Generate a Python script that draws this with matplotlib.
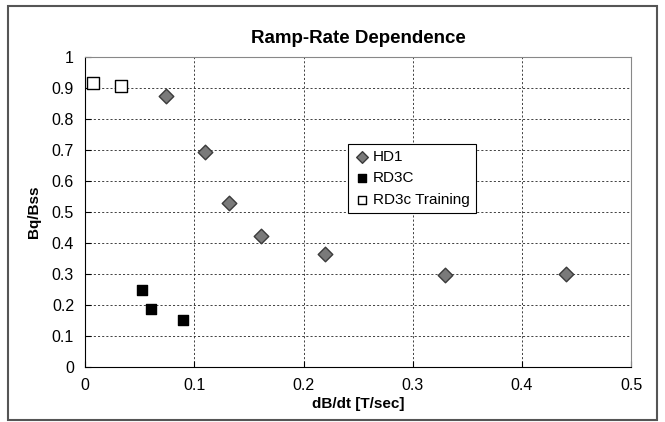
import matplotlib
matplotlib.use("Agg")
import matplotlib.pyplot as plt
from matplotlib.patches import Rectangle

# data
hd1_x = [0.074, 0.110, 0.132, 0.161, 0.220, 0.330, 0.440]
hd1_y = [0.873, 0.695, 0.530, 0.422, 0.365, 0.297, 0.300]
rd3c_x = [0.052, 0.060, 0.090]
rd3c_y = [0.248, 0.186, 0.153]
train_x = [0.007, 0.033]
train_y = [0.916, 0.905]

plt.rcParams['font.family'] = ['Liberation Sans', 'DejaVu Sans']

fig = plt.figure(figsize=(6.65, 4.22), dpi=100)
ax = fig.add_axes([0.128, 0.130, 0.821, 0.735])

ax.scatter(hd1_x, hd1_y, marker="D", s=55, color="#7a7a7a", edgecolors="#3a3a3a",
           linewidths=1, label="HD1", zorder=3)
ax.scatter(rd3c_x, rd3c_y, marker="s", s=55, color="black", edgecolors="black",
           label="RD3C", zorder=3)
ax.scatter(train_x, train_y, marker="s", s=65, color="white", edgecolors="black",
           linewidths=1, label="RD3c Training", zorder=3)

ax.set_xlim(0, 0.5)
ax.set_ylim(0, 1)
ax.set_xticks([0, 0.1, 0.2, 0.3, 0.4, 0.5])
ax.set_xticklabels(["0", "0.1", "0.2", "0.3", "0.4", "0.5"])
ax.set_yticks([i / 10 for i in range(11)])
ax.set_yticklabels(["0"] + [f"0.{i}" for i in range(1, 10)] + ["1"])
ax.tick_params(labelsize=11.5, direction="in", length=4, pad=8)
ax.grid(True, color="#222222", linestyle=(0, (2.5, 2.5)), linewidth=0.6)
for s in ax.spines.values():
    s.set_color("#888888")
ax.spines["left"].set_color("black")
ax.spines["bottom"].set_color("black")

ax.set_title("Ramp-Rate Dependence", fontsize=13.5, fontweight="bold", pad=10)
ax.set_xlabel("dB/dt [T/sec]", fontsize=11, fontweight="bold", labelpad=3)
ax.set_ylabel("Bq/Bss", fontsize=11, fontweight="bold", labelpad=8)

leg = ax.legend(loc="upper left", bbox_to_anchor=(0.468, 0.745), fontsize=11,
                frameon=True, fancybox=False, edgecolor="black", framealpha=1,
                handletextpad=0.2, borderpad=0.4, labelspacing=0.5,
                markerscale=0.8, handlelength=1.0)
leg.get_frame().set_linewidth(0.8)

fig.patches.append(Rectangle((0.012, 0.005), 0.976, 0.98, transform=fig.transFigure,
                             fill=False, edgecolor="#555555", linewidth=1.5))

fig.savefig("out.png", dpi=100, facecolor="white")
